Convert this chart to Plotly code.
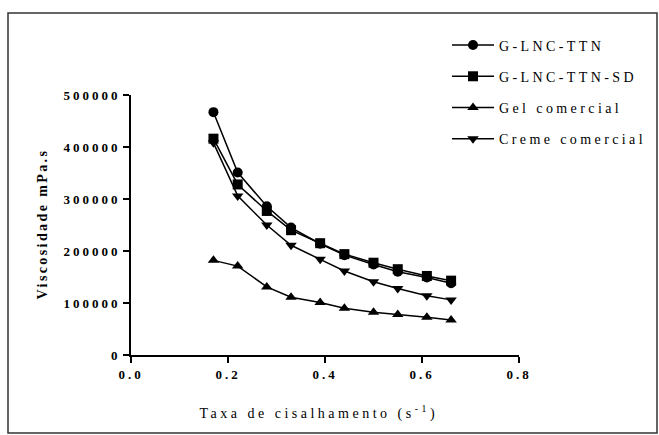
import plotly.graph_objects as go

# Shear rate (s^-1)
shear_rate = [0.17, 0.22, 0.28, 0.33, 0.39, 0.44, 0.50, 0.55, 0.61, 0.66]

# Viscosity (mPa.s) for each formulation
g_lnc_ttn = [467000, 351000, 286000, 245000, 214000, 192000, 174000, 160000, 149000, 138000]
g_lnc_ttn_sd = [416000, 328000, 277000, 240000, 215000, 194000, 177500, 165000, 152000, 143000]
gel_comercial = [182000, 171000, 131000, 111000, 101000, 90000, 82000, 78000, 72500, 67500]
creme_comercial = [408000, 306000, 250000, 211000, 184000, 161500, 141000, 128000, 114000, 106000]

series_names = ["G-LNC-TTN", "G-LNC-TTN-SD", "Gel comercial", "Creme comercial"]
series_values = [g_lnc_ttn, g_lnc_ttn_sd, gel_comercial, creme_comercial]
series_symbols = ["circle", "square", "triangle-up", "triangle-down"]

x_ticks = [0.0, 0.2, 0.4, 0.6, 0.8]
x_ticklabels = ["0.0", "0.2", "0.4", "0.6", "0.8"]
y_ticks = [0, 100000, 200000, 300000, 400000, 500000]
y_ticklabels = ["0", "100000", "200000", "300000", "400000", "500000"]

x_title = "Taxa de cisalhamento (s<sup>-1</sup>)"
y_title = "Viscosidade mPa.s"

fig = go.Figure()
for i, (name, vals, sym) in enumerate(zip(series_names, series_values, series_symbols)):
    fig.add_trace(go.Scatter(
        x=shear_rate, y=vals, name=name, mode="lines+markers",
        line=dict(color="black", width=1.5),
        marker=dict(symbol=sym, size=10, color="black"),
        legendgroup=f"g{i}",
    ))

serif = "Liberation Serif, Times New Roman, serif"

fig.update_layout(
    width=659, height=435,
    margin=dict(l=131, r=140, t=95, b=80, autoexpand=False),
    paper_bgcolor="white", plot_bgcolor="white",
    showlegend=True,
    legend=dict(
        x=(447 - 131) / 388, xanchor="left", y=1.252, yanchor="top",
        font=dict(family=serif, size=14, color="black"),
        traceorder="grouped", tracegroupgap=10,
        itemwidth=42, bgcolor="rgba(0,0,0,0)",
    ),
    xaxis=dict(
        range=[0, 0.8], tickvals=x_ticks, ticktext=x_ticklabels,
        showline=True, linecolor="black", linewidth=2,
        ticks="outside", ticklen=6, tickwidth=2, tickcolor="black",
        showgrid=False, zeroline=False,
        tickfont=dict(family=serif, size=13, color="black", weight="bold"),
    ),
    yaxis=dict(
        range=[0, 500000], tickvals=y_ticks, ticktext=y_ticklabels,
        showline=True, linecolor="black", linewidth=2,
        ticks="outside", ticklen=6, tickwidth=2, tickcolor="black",
        showgrid=False, zeroline=False,
        tickfont=dict(family=serif, size=13, color="black", weight="bold"),
    ),
    annotations=[
        dict(text=x_title, xref="paper", yref="paper",
             x=0.485, y=(355 - 412) / 260, xanchor="center", yanchor="middle",
             showarrow=False, font=dict(family=serif, size=14, color="black")),
        dict(text=y_title, xref="paper", yref="paper",
             x=(42 - 131) / 388, y=(355 - 224) / 260, xanchor="center", yanchor="middle",
             textangle=-90, showarrow=False,
             font=dict(family=serif, size=14, color="black", weight="bold")),
    ],
    shapes=[dict(
        type="rect", xref="paper", yref="paper",
        x0=(8 - 131) / 388, x1=(657 - 131) / 388,
        y0=(355 - 433) / 260, y1=(355 - 13) / 260,
        line=dict(color="#333333", width=1.5), fillcolor="rgba(0,0,0,0)", layer="below",
    )],
)

# Widen character spacing of all chart text; keep the widened legend labels unclipped
spacing_css = (
    "var s=document.createElement('style');"
    "s.textContent='.xtick text,.ytick text{letter-spacing:3px}"
    " .legendtext{letter-spacing:3.4px} .legend, .legend *{clip-path:none !important}"
    " .annotation .annotation-text{letter-spacing:3.5px}"
    " .annotation[data-index=\"1\"] .annotation-text{letter-spacing:2.4px}';"
    "document.head.appendChild(s);"
)

fig.write_html("out.html", post_script=spacing_css)
